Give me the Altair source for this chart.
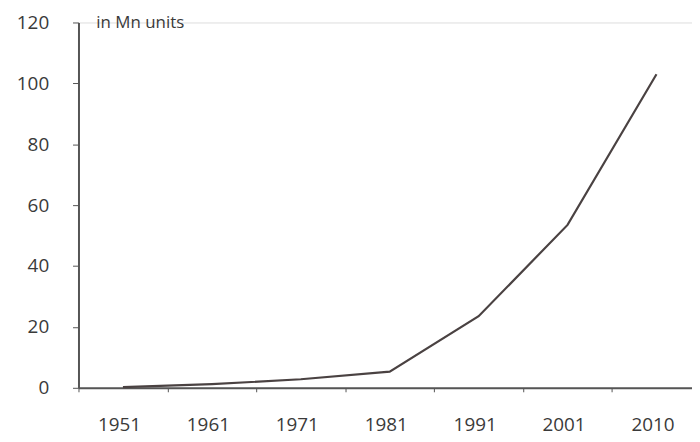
import altair as alt
import pandas as pd

years = ["1951", "1961", "1971", "1981", "1991", "2001", "2010"]
values = [0.2, 1.2, 2.8, 5.3, 23.5, 53.5, 103.0]
y_ticks = [0, 20, 40, 60, 80, 100, 120]
unit_label = "in Mn units"

df = pd.DataFrame({"year": years, "value": values})

FONT = "Open Sans"
AXIS_COLOR = "#555555"
LABEL_COLOR = "#3a3a3a"

base = alt.Chart(df)

line = base.mark_line(color="#4a4242", strokeWidth=2.2).encode(
    x=alt.X(
        "year:O",
        sort=years,
        scale=alt.Scale(paddingInner=0, paddingOuter=0, range=[0, 627]),
        axis=alt.Axis(
            title=None,
            labelAngle=0,
            labelFont=FONT,
            labelFontSize=19,
            labelColor=LABEL_COLOR,
            labelPadding=24,
            labelOffset=-4,
            tickBand="extent",
            tickSize=4,
            tickColor=AXIS_COLOR,
            domainColor=AXIS_COLOR,
            domainWidth=2,
            grid=False,
        ),
    ),
    y=alt.Y(
        "value:Q",
        scale=alt.Scale(domain=[0, 120], nice=False),
        axis=alt.Axis(
            title=None,
            values=y_ticks,
            labelFont=FONT,
            labelFontSize=19,
            labelColor=LABEL_COLOR,
            labelPadding=24,
            tickSize=6,
            tickColor=AXIS_COLOR,
            domainColor=AXIS_COLOR,
            domainWidth=2,
            grid=False,
        ),
    ),
)

label = alt.Chart(pd.DataFrame({"t": [unit_label]})).mark_text(
    align="left", baseline="middle", font=FONT, fontSize=17, color=LABEL_COLOR
).encode(x=alt.value(18), y=alt.value(1), text="t:N")

chart = (
    alt.layer(line, label)
    .properties(
        width=618,
        height=368,
        autosize=alt.AutoSizeParams(type="none"),
        padding={"left": 71, "top": 13, "right": 0, "bottom": 52},
    )
    .configure_view(stroke=None)
    .configure(background="white")
)

chart.save("out.html", embed_options={"renderer": "svg", "actions": False})
